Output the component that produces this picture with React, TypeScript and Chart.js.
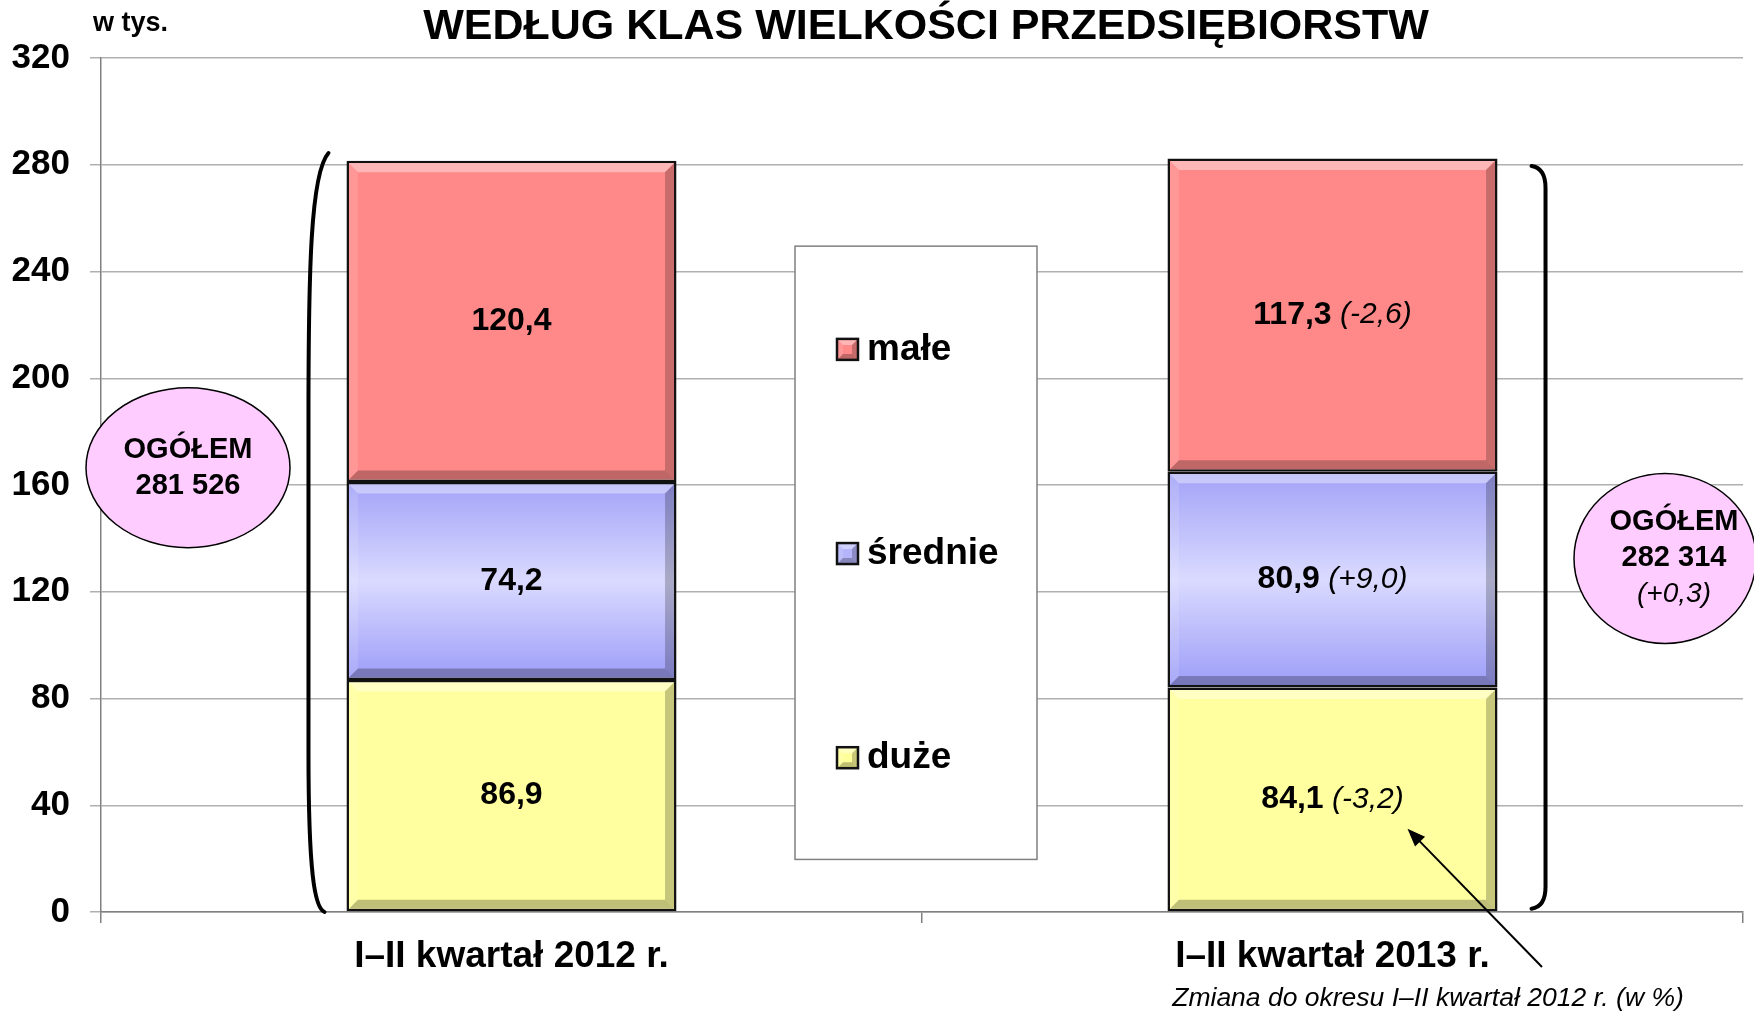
import React, { useEffect, useRef } from "react";
import { Chart, registerables } from "chart.js";

Chart.register(...registerables);

const categories = ["I–II kwartał 2012 r.", "I–II kwartał 2013 r."];
const seriesNames = ["duże", "średnie", "małe"];
const duze = [86.9, 84.1];
const srednie = [74.2, 80.9];
const male = [120.4, 117.3];
const duzeChange = ["", "-3,2"];
const sredneChange = ["", "+9,0"];
const maleChange = ["", "-2,6"];
const totals = ["281 526", "282 314"];
const totalChange = ["", "+0,3"];
const yTicks = [0, 40, 80, 120, 160, 200, 240, 280, 320];

const FONT = '"Liberation Sans", Arial, Helvetica, sans-serif';
const W = 1754;
const H = 1014;

const changes = [duzeChange, sredneChange, maleChange];

function fmt(v: number) {
  return v.toFixed(1).replace(".", ",");
}

function drawBevel(ctx: CanvasRenderingContext2D, l: number, t: number, r: number, b: number, bv: number) {
  const poly = (pts: number[][], color: string) => {
    ctx.beginPath();
    ctx.moveTo(pts[0][0], pts[0][1]);
    for (let i = 1; i < pts.length; i++) ctx.lineTo(pts[i][0], pts[i][1]);
    ctx.closePath();
    ctx.fillStyle = color;
    ctx.fill();
  };
  poly([[l, t], [r, t], [r - bv, t + bv], [l + bv, t + bv]], "rgba(255,255,255,0.38)");
  poly([[l, t], [l + bv, t + bv], [l + bv, b - bv], [l, b]], "rgba(255,255,255,0.12)");
  poly([[r, t], [r, b], [r - bv, b - bv], [r - bv, t + bv]], "rgba(0,0,0,0.22)");
  poly([[l, b], [r, b], [r - bv, b - bv], [l + bv, b - bv]], "rgba(0,0,0,0.25)");
}

const decorPlugin = {
  id: "decor",
  afterDatasetsDraw(chart: any) {
    const ctx: CanvasRenderingContext2D = chart.ctx;
    const ys = chart.scales.y;
    // bevels
    chart.data.datasets.forEach((ds: any, di: number) => {
      const meta = chart.getDatasetMeta(di);
      meta.data.forEach((el: any) => {
        const p = el.getProps(["x", "y", "base", "width"], true);
        const l = p.x - p.width / 2 + 2.5;
        const r = p.x + p.width / 2 - 2.5;
        const t = Math.min(p.y, p.base) + 2.5;
        const b = Math.max(p.y, p.base) - 2.5;
        ctx.save();
        drawBevel(ctx, l, t, r, b, 9);
        ctx.restore();
      });
    });
    // value labels
    chart.data.datasets.forEach((ds: any, di: number) => {
      const meta = chart.getDatasetMeta(di);
      meta.data.forEach((el: any, i: number) => {
        const p = el.getProps(["x", "y", "base"], true);
        const cy = (p.y + p.base) / 2;
        const main = fmt(ds.data[i]);
        const ch = changes[di][i];
        ctx.save();
        ctx.fillStyle = "#000";
        ctx.textBaseline = "middle";
        ctx.font = `bold 32px ${FONT}`;
        const w1 = ctx.measureText(main).width;
        let w2 = 0;
        const ch2 = ch ? ` (${ch})` : "";
        if (ch) {
          ctx.font = `italic 30px ${FONT}`;
          w2 = ctx.measureText(ch2).width;
        }
        const x0 = p.x - (w1 + w2) / 2;
        ctx.textAlign = "left";
        ctx.font = `bold 32px ${FONT}`;
        ctx.fillText(main, x0, cy);
        if (ch) {
          ctx.font = `italic 30px ${FONT}`;
          ctx.fillText(ch2, x0 + w1, cy);
        }
        ctx.restore();
      });
    });

    const area = chart.chartArea;
    const m0 = chart.getDatasetMeta(0);
    const e0 = m0.data[0].getProps(["x", "width"], true);
    const e1 = m0.data[1].getProps(["x", "width"], true);

    ctx.save();
    ctx.strokeStyle = "#000";
    ctx.lineWidth = 4;
    ctx.lineCap = "round";
    // left bracket
    const lx = e0.x - e0.width / 2;
    const lt = ys.getPixelForValue(284.4);
    const lb = ys.getPixelForValue(0);
    ctx.beginPath();
    ctx.moveTo(lx - 18, lt);
    ctx.bezierCurveTo(lx - 36, lt + 20, lx - 38, lt + 120, lx - 38, lt + 260);
    ctx.lineTo(lx - 38, lb - 160);
    ctx.bezierCurveTo(lx - 38, lb - 40, lx - 32, lb - 4, lx - 22, lb);
    ctx.stroke();
    // right bracket
    const rx = e1.x + e1.width / 2;
    const rt = ys.getPixelForValue(279.5);
    const rb = ys.getPixelForValue(1.2);
    ctx.beginPath();
    ctx.moveTo(rx + 34, rt);
    ctx.quadraticCurveTo(rx + 48, rt + 2, rx + 48, rt + 22);
    ctx.lineTo(rx + 48, rb - 22);
    ctx.quadraticCurveTo(rx + 48, rb - 2, rx + 34, rb);
    ctx.stroke();
    ctx.restore();

    // ellipses
    const ell = (cx: number, cy: number, rxx: number, ryy: number, tx: number, lines: { t: string; f: string }[], gap: number) => {
      ctx.save();
      ctx.beginPath();
      ctx.ellipse(cx, cy, rxx, ryy, 0, 0, Math.PI * 2);
      ctx.fillStyle = "#FFCCFF";
      ctx.fill();
      ctx.strokeStyle = "#000";
      ctx.lineWidth = 1.5;
      ctx.stroke();
      ctx.fillStyle = "#000";
      ctx.textAlign = "center";
      ctx.textBaseline = "middle";
      const y0 = cy - ((lines.length - 1) * gap) / 2;
      lines.forEach((ln, k) => {
        ctx.font = ln.f;
        ctx.fillText(ln.t, tx, y0 + k * gap);
      });
      ctx.restore();
    };
    const lcx = area.left + 87;
    ell(lcx, ys.getPixelForValue(166.5), 102, 80, lcx, [
      { t: "OGÓŁEM", f: `bold 29px ${FONT}` },
      { t: totals[0], f: `bold 29px ${FONT}` },
    ], 36);
    const rcx = area.right - 78;
    ell(rcx, ys.getPixelForValue(132.5), 91, 85, rcx + 9, [
      { t: "OGÓŁEM", f: `bold 29px ${FONT}` },
      { t: totals[1], f: `bold 29px ${FONT}` },
      { t: `(${totalChange[1]})`, f: `italic 28px ${FONT}` },
    ], 36);

    // legend box
    const bx = area.left + 694;
    const by = ys.getPixelForValue(249.5);
    const bw = 242;
    const bh = ys.getPixelForValue(19.7) - by;
    ctx.save();
    ctx.fillStyle = "#fff";
    ctx.fillRect(bx, by, bw, bh);
    ctx.strokeStyle = "#808080";
    ctx.lineWidth = 1.5;
    ctx.strokeRect(bx, by, bw, bh);
    const legendColors = ["#FFFF99", "#B4B4FA", "#FF8888"];
    const legendY = [ys.getPixelForValue(211), ys.getPixelForValue(134.5), ys.getPixelForValue(58)];
    for (let k = 2; k >= 0; k--) {
      const yy = legendY[2 - k];
      const mx = bx + 42;
      ctx.fillStyle = legendColors[k];
      ctx.fillRect(mx, yy - 10, 21, 21);
      drawBevel(ctx, mx, yy - 10, mx + 21, yy + 11, 6);
      ctx.strokeStyle = "#111";
      ctx.lineWidth = 2.5;
      ctx.strokeRect(mx, yy - 10, 21, 21);
      ctx.fillStyle = "#000";
      ctx.font = `bold 37px ${FONT}`;
      ctx.textAlign = "left";
      ctx.textBaseline = "middle";
      ctx.fillText(chart.data.datasets[k].label, mx + 30, yy + 1);
    }
    ctx.restore();

    // arrow annotation
    ctx.save();
    const ax1 = e1.x + 75;
    const ay1 = ys.getPixelForValue(31.2);
    const ax0 = area.right - 201;
    const ay0 = ys.getPixelForValue(-20.6);
    ctx.strokeStyle = "#000";
    ctx.fillStyle = "#000";
    ctx.lineWidth = 2;
    const ang = Math.atan2(ay1 - ay0, ax1 - ax0);
    ctx.beginPath();
    ctx.moveTo(ax0, ay0);
    ctx.lineTo(ax1 - 12 * Math.cos(ang), ay1 - 12 * Math.sin(ang));
    ctx.stroke();
    ctx.beginPath();
    ctx.moveTo(ax1, ay1);
    ctx.lineTo(ax1 - 18 * Math.cos(ang) + 7 * Math.sin(ang), ay1 - 18 * Math.sin(ang) - 7 * Math.cos(ang));
    ctx.lineTo(ax1 - 18 * Math.cos(ang) - 7 * Math.sin(ang), ay1 - 18 * Math.sin(ang) + 7 * Math.cos(ang));
    ctx.closePath();
    ctx.fill();
    ctx.font = `italic 26.5px ${FONT}`;
    ctx.textAlign = "center";
    ctx.textBaseline = "middle";
    ctx.fillText("Zmiana do okresu I–II kwartał 2012 r. (w %)", 1428, 999);
    ctx.restore();

    // title & unit
    ctx.save();
    ctx.fillStyle = "#000";
    ctx.textBaseline = "middle";
    ctx.textAlign = "center";
    ctx.font = `bold 43px ${FONT}`;
    ctx.fillText("WEDŁUG KLAS WIELKOŚCI PRZEDSIĘBIORSTW", (area.left + area.right) / 2 + 4, 27);
    ctx.textAlign = "left";
    ctx.font = `bold 27px ${FONT}`;
    ctx.fillText("w tys.", 93, 24);
    ctx.restore();
  },
};

export default function App() {
  const ref = useRef<HTMLCanvasElement | null>(null);
  useEffect(() => {
    if (!ref.current) return;
    const sredniGradient = (c: any) => {
      const chart = c.chart;
      if (!chart.chartArea || c.type !== "data" || !chart.scales.y) return "#C0C0FA";
      const y = chart.scales.y;
      const i = c.dataIndex;
      const start = duze[i];
      const end = start + srednie[i];
      const top = y.getPixelForValue(end);
      const bot = y.getPixelForValue(start);
      const g = chart.ctx.createLinearGradient(0, top, 0, bot);
      g.addColorStop(0, "#A2A2F8");
      g.addColorStop(0.5, "#DADAFF");
      g.addColorStop(1, "#9C9CF8");
      return g;
    };
    const common = {
      borderColor: "#111",
      borderWidth: 2.5,
      borderSkipped: false,
      categoryPercentage: 1,
      barPercentage: 0.402,
    };
    const chart = new Chart(ref.current, {
      type: "bar",
      data: {
        labels: categories,
        datasets: [
          { label: seriesNames[0], data: duze, backgroundColor: "#FFFF9F", ...common },
          { label: seriesNames[1], data: srednie, backgroundColor: sredniGradient, ...common },
          { label: seriesNames[2], data: male, backgroundColor: "#FF8989", ...common },
        ],
      } as any,
      options: {
        responsive: false,
        animation: false,
        layout: { padding: { left: 0, right: 11, top: 58, bottom: 42 } },
        plugins: { legend: { display: false }, tooltip: { enabled: false }, title: { display: false } },
        scales: {
          x: {
            stacked: true,
            afterFit: (s: any) => { s.height = 60; },
            grid: { offset: true, drawOnChartArea: false, drawTicks: true, tickLength: 11, color: "#808080", lineWidth: 1.5 },
            border: { color: "#808080", width: 1.5 },
            ticks: { color: "#000", font: { family: FONT, size: 37, weight: "bold" }, padding: 12 },
          },
          y: {
            stacked: true,
            min: 0,
            max: 320,
            afterFit: (s: any) => { s.width = 101; },
            afterBuildTicks: (s: any) => { s.ticks = yTicks.map((v) => ({ value: v })); },
            grid: { color: "#B0B0B0", lineWidth: 1.5, tickLength: 11 },
            border: { color: "#808080", width: 1.5 },
            ticks: { color: "#000", font: { family: FONT, size: 35, weight: "bold" }, padding: 20 },
          },
        },
      } as any,
      plugins: [decorPlugin],
    });
    return () => chart.destroy();
  }, []);
  return (
    <div style={{ position: "fixed", left: 0, top: 0, width: W, height: H, background: "#fff" }}>
      <canvas ref={ref} width={W} height={H} style={{ display: "block", width: W, height: H }} />
    </div>
  );
}
